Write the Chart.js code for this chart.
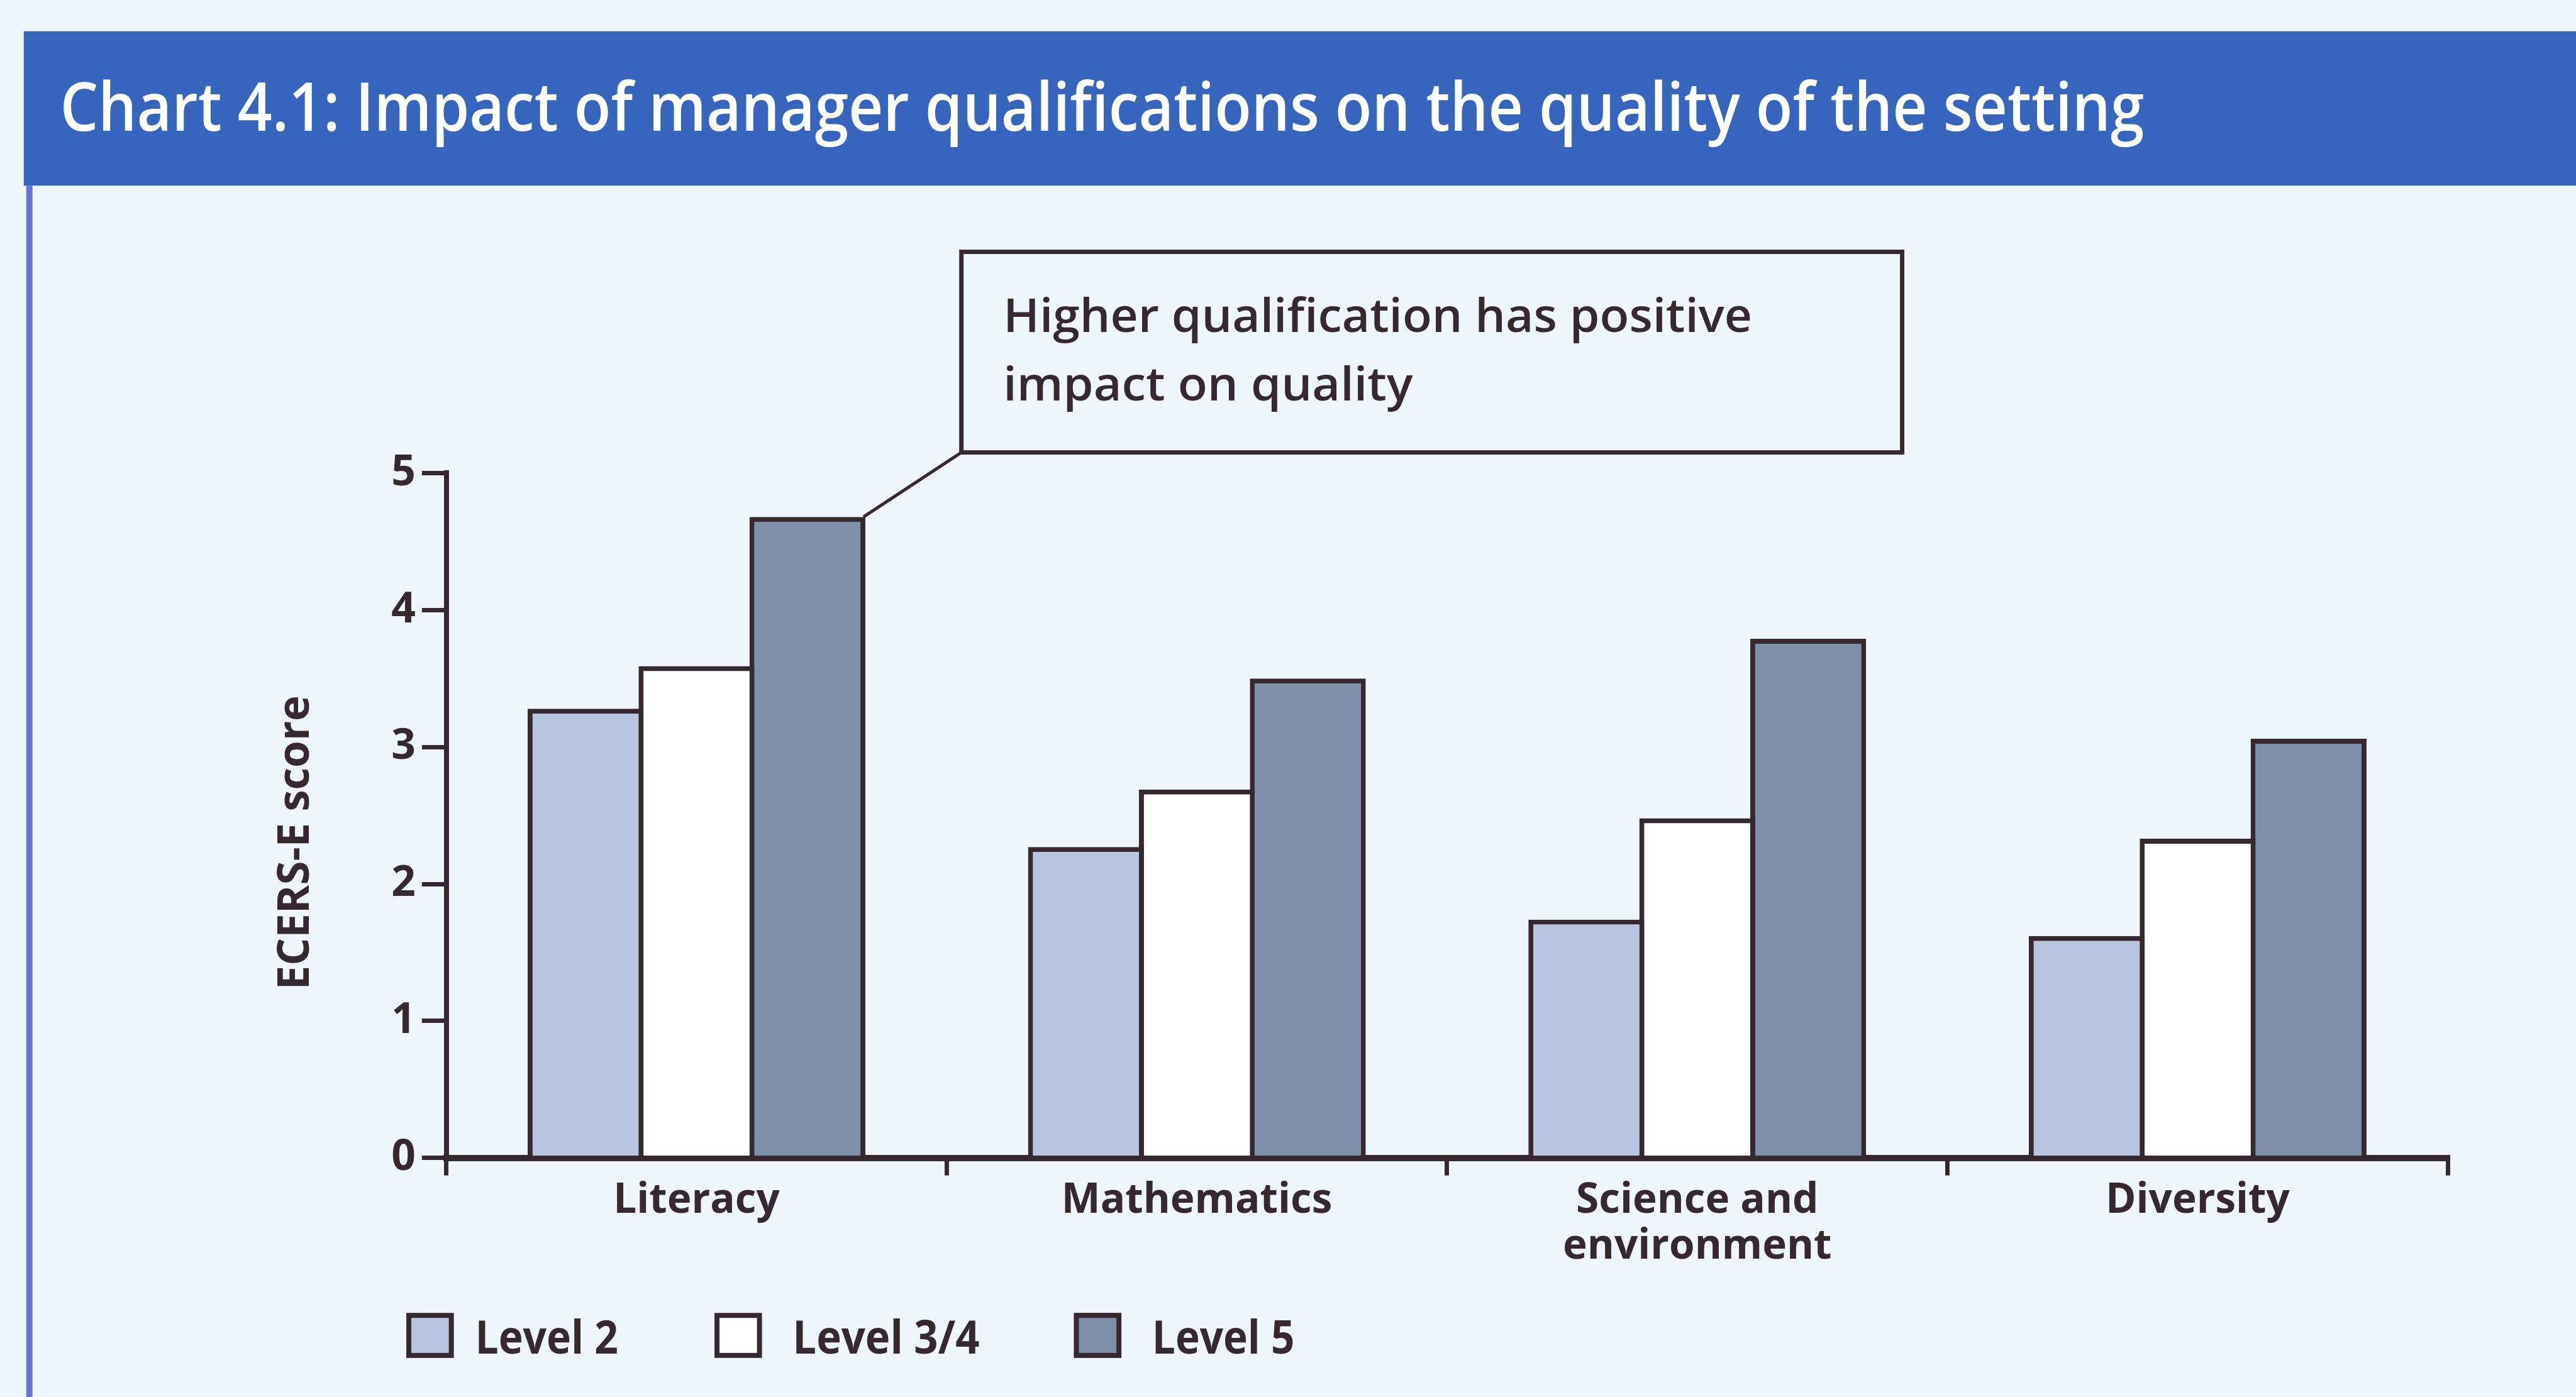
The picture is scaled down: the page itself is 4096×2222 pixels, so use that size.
<!DOCTYPE html>
<html>
<head>
<meta charset="utf-8">
<title>Chart 4.1: Impact of manager qualifications on the quality of the setting</title>
<script src="https://cdn.jsdelivr.net/npm/chart.js@4.4.1/dist/chart.umd.min.js"></script>
<style>
  html, body { margin: 0; padding: 0; background: #f0f6fb; overflow: hidden; }
  #wrap { position: relative; width: 4096px; height: 2222px; }
</style>
</head>
<body>
<div id="wrap"><canvas id="chart"></canvas></div>
<script>
// chart data
const categories = ["Literacy", "Mathematics", ["Science and", "environment"], "Diversity"];
const seriesNames = ["Level 2", "Level 3/4", "Level 5"];
const level2 = [3.28, 2.27, 1.74, 1.62];
const level34 = [3.59, 2.69, 2.48, 2.33];
const level5 = [4.68, 3.50, 3.79, 3.06];
const yTicks = [0, 1, 2, 3, 4, 5];

const titleText = "Chart 4.1: Impact of manager qualifications on the quality of the setting";
const calloutLines = ["Higher qualification has positive", "impact on quality"];
const yTitle = "ECERS-E score";

// reference pixels -> window pixels
const S = 4096 / 4121;
const px = v => v * S;

const FONT = "'Open Sans', 'Noto Sans', sans-serif";
const INK = "#35282e";
const BG = "#eff6fb";
const fills = ["#b8c5e0", "#ffffff", "#7d8fa9"];

// draw text squeezed/stretched horizontally to a given width
function fitText(ctx, text, x, y, size, width, color, weight) {
  ctx.save();
  ctx.font = `${weight || 600} ${size}px ${FONT}`;
  const w = ctx.measureText(text).width;
  const sx = width ? width / w : 1;
  ctx.translate(x, y);
  ctx.scale(sx, 1);
  ctx.fillStyle = color;
  ctx.textAlign = "left";
  ctx.textBaseline = "alphabetic";
  ctx.fillText(text, 0, 0);
  ctx.restore();
}

// page background, title bar and the blue rule on the left
const backdrop = {
  id: "backdrop",
  beforeDraw(chart) {
    const { ctx, width, height } = chart;
    ctx.save();
    ctx.fillStyle = BG;
    ctx.fillRect(0, 0, width, height);
    ctx.fillStyle = "#3764bd";
    ctx.fillRect(px(38), px(50), width - px(38), px(247));
    ctx.fillStyle = "#6b70d6";
    ctx.fillRect(px(42), px(297), px(10), height - px(297));
    ctx.restore();
    fitText(ctx, titleText, px(96), px(209), px(108), px(3334), "#ffffff", 600);
  }
};

// callout, y title and legend
const extras = {
  id: "extras",
  afterDraw(chart) {
    const ctx = chart.ctx;
    ctx.save();

    // callout box
    ctx.strokeStyle = INK;
    ctx.lineWidth = px(7);
    ctx.strokeRect(px(1538), px(403), px(1505), px(321));
    fitText(ctx, calloutLines[0], px(1605), px(531), px(74), px(1198), INK, 600);
    fitText(ctx, calloutLines[1], px(1605), px(641), px(74), px(655), INK, 600);

    // leader line to the top of the Literacy / Level 5 bar
    const bar = chart.getDatasetMeta(2).data[0];
    ctx.lineWidth = px(5);
    ctx.beginPath();
    ctx.moveTo(px(1538), px(724));
    ctx.lineTo(bar.x + bar.width / 2 - px(3), bar.y);
    ctx.stroke();

    // y axis title
    ctx.save();
    ctx.translate(px(494), px(1349));
    ctx.rotate(-Math.PI / 2);
    fitText(ctx, yTitle, -px(235), 0, px(70), px(471), INK, 700);
    ctx.restore();

    // legend
    const boxX = [650, 1143, 1718];
    const textX = [760, 1268, 1843];
    const textW = [229, 299, 228];
    const lw = px(8);
    chart.data.datasets.forEach((ds, i) => {
      const x = px(boxX[i]), y = px(2101), w = px(76), h = px(72);
      ctx.fillStyle = ds.backgroundColor;
      ctx.fillRect(x, y, w, h);
      ctx.lineWidth = lw;
      ctx.strokeStyle = INK;
      ctx.strokeRect(x + lw / 2, y + lw / 2, w - lw, h - lw);
      fitText(ctx, ds.label, px(textX[i]), px(2166), px(74), px(textW[i]), INK, 700);
    });

    ctx.restore();
  }
};

const xAxisH = px(250);
const barEdge = px(8);

const chart = new Chart(document.getElementById("chart"), {
  type: "bar",
  data: {
    labels: categories,
    datasets: [level2, level34, level5].map((vals, i) => ({
      label: seriesNames[i],
      data: vals,
      backgroundColor: fills[i],
      borderColor: INK,
      borderWidth: barEdge,
      borderSkipped: "start",
      categoryPercentage: 0.665,
      barPercentage: 1.045
    }))
  },
  options: {
    responsive: true,
    maintainAspectRatio: false,
    animation: false,
    layout: {
      padding: {
        left: px(400),
        right: 4096 - px(3916),
        top: px(757),
        bottom: 2222 - px(1853) - xAxisH
      }
    },
    plugins: {
      legend: { display: false },
      tooltip: { enabled: false }
    },
    scales: {
      x: {
        z: 1,
        grid: {
          offset: true,
          drawOnChartArea: false,
          drawTicks: true,
          tickLength: px(28),
          color: INK,
          lineWidth: px(7)
        },
        border: { display: true, color: INK, width: px(10) },
        ticks: {
          color: INK,
          font: { family: FONT, size: px(66), weight: 700, lineHeight: 1.12 },
          padding: px(4),
          maxRotation: 0,
          autoSkip: false
        },
        afterFit: s => { s.height = xAxisH; }
      },
      y: {
        z: 1,
        min: 0,
        max: 5,
        afterBuildTicks: s => { s.ticks = yTicks.map(v => ({ value: v })); },
        grid: {
          drawOnChartArea: false,
          tickLength: px(39),
          color: INK,
          lineWidth: px(7)
        },
        border: { display: true, color: INK, width: px(8) },
        ticks: {
          color: INK,
          font: { family: FONT, size: px(68), weight: 700 },
          padding: px(10)
        },
        afterFit: s => { s.width = px(314); }
      }
    }
  },
  plugins: [backdrop, extras]
});
</script>
</body>
</html>
